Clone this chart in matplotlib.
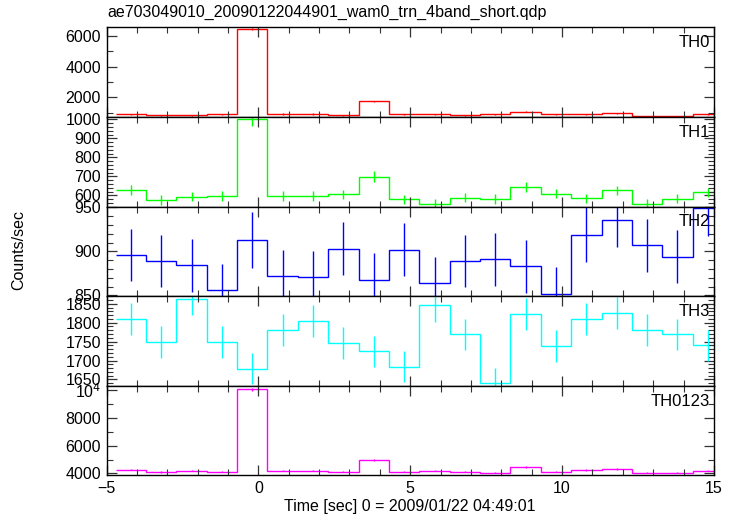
import numpy as np
import matplotlib
matplotlib.use("Agg")
import matplotlib.pyplot as plt
from matplotlib.ticker import MultipleLocator, FixedLocator, FixedFormatter

plt.rcParams['font.family'] = ['Liberation Sans', 'DejaVu Sans']

# light curve bins (1 s wide)
time = [-4.2, -3.2, -2.2, -1.2, -0.2, 0.8, 1.8, 2.8, 3.8, 4.8,
        5.8, 6.8, 7.8, 8.8, 9.8, 10.8, 11.8, 12.8, 13.8, 14.8]
bin_width = 1.0

th0 = [886, 818, 818, 886, 6440, 909, 909, 818, 1726, 900,
       886, 818, 886, 1068, 886, 886, 955, 773, 773, 886]
th0_err = [35, 34, 34, 35, 85, 35, 35, 34, 45, 35,
           35, 34, 35, 37, 35, 35, 36, 33, 33, 35]

th1 = [628, 576, 593, 598, 1000, 598, 598, 605, 699, 579,
       557, 588, 581, 645, 610, 586, 626, 557, 583, 616]
th1_err = [25, 24, 25, 25, 32, 25, 25, 25, 27, 24,
           24, 25, 24, 26, 25, 24, 25, 24, 24, 25]

th2 = [896, 889, 884, 856, 913, 872, 871, 903, 868, 902,
       864, 889, 891, 883, 852, 919, 936, 907, 894, 949]
th2_err = [30, 30, 30, 30, 32, 30, 30, 30, 30, 30,
           30, 30, 30, 30, 30, 31, 31, 30, 30, 32]

th3 = [1810, 1750, 1863, 1750, 1678, 1781, 1804, 1746, 1724, 1684,
       1846, 1769, 1640, 1824, 1739, 1810, 1826, 1780, 1769, 1740]
th3_err = [42, 42, 43, 42, 41, 42, 42, 42, 42, 41,
           43, 42, 41, 42, 42, 42, 43, 42, 42, 42]

th0123 = [4282, 4094, 4211, 4141, 10060, 4211, 4211, 4141, 4987, 4141,
          4211, 4141, 4070, 4446, 4141, 4258, 4352, 4070, 4070, 4211]
th0123_err = [65, 64, 65, 64, 100, 65, 65, 64, 70, 64,
              65, 64, 64, 66, 64, 65, 66, 64, 64, 65]

names = ['TH0', 'TH1', 'TH2', 'TH3', 'TH0123']
colors = ['#ff0000', '#00ff00', '#0000ff', '#00ffff', '#ff00ff']
series = [th0, th1, th2, th3, th0123]
errors = [th0_err, th1_err, th2_err, th3_err, th0123_err]
ylims = [(717, 6547), (541, 1013), (849, 951), (1633, 1870), (3855, 10310)]
minor = [1000, 20, 10, 10, 1000]
ytick_vals = [[2000, 4000, 6000], [600, 700, 800, 900, 1000], [850, 900, 950],
              [1650, 1700, 1750, 1800, 1850], [4000, 6000, 8000, 10000]]
ytick_txt = [['2000', '4000', '6000'], ['600', '700', '800', '900', '1000'],
             ['850', '900', '950'], ['1650', '1700', '1750', '1800', '1850'],
             ['4000', '6000', '8000', r'10$^4$']]

fig = plt.figure(figsize=(7.33, 5.16), dpi=100)
gs = fig.add_gridspec(5, 1, left=0.1453, right=0.974, top=0.947, bottom=0.0785, hspace=0)

tc = np.array(time)
edges = np.append(tc - bin_width / 2, tc[-1] + bin_width / 2)

axes = []
for i in range(5):
    ax = fig.add_subplot(gs[i, 0], sharex=axes[0] if axes else None)
    ax.stairs(series[i], edges, baseline=None, color=colors[i], lw=1.0)
    ax.errorbar(tc, series[i], yerr=errors[i], fmt='none', ecolor=colors[i],
                elinewidth=1.0, capsize=0)
    ax.set_ylim(*ylims[i])
    ax.set_xlim(-5, 15)
    ax.yaxis.set_major_locator(FixedLocator(ytick_vals[i]))
    ax.yaxis.set_major_formatter(FixedFormatter(ytick_txt[i]))
    ax.yaxis.set_minor_locator(MultipleLocator(minor[i]))
    ax.xaxis.set_major_locator(MultipleLocator(5))
    ax.xaxis.set_minor_locator(MultipleLocator(1))
    ax.tick_params(which='both', direction='in', top=True, right=True,
                   color='#333333', labelsize=11.5, pad=4)
    ax.tick_params(which='major', length=7, width=0.9)
    ax.tick_params(which='minor', length=4, width=0.8)
    for sp in ax.spines.values():
        sp.set_linewidth(1.0)
    ax.text(0.994, 0.83, names[i], transform=ax.transAxes, ha='right', va='center',
            fontsize=12)
    if i < 4:
        ax.tick_params(labelbottom=False)
    axes.append(ax)

axes[-1].set_xticks([-5, 0, 5, 10, 15])
axes[-1].set_xticklabels(['\u22125', '0', '5', '10', '15'])
axes[-1].set_xlabel('Time [sec] 0 = 2009/01/22 04:49:01', fontsize=11.5, labelpad=2)

fig.text(0.025, 0.515, 'Counts/sec', rotation=90, ha='center', va='center', fontsize=11.5)
fig.text(107 / 733, 1 - 12 / 516, 'ae703049010_20090122044901_wam0_trn_4band_short.qdp',
         ha='left', va='center', fontsize=11.5)

fig.savefig('out.png', dpi=100)
